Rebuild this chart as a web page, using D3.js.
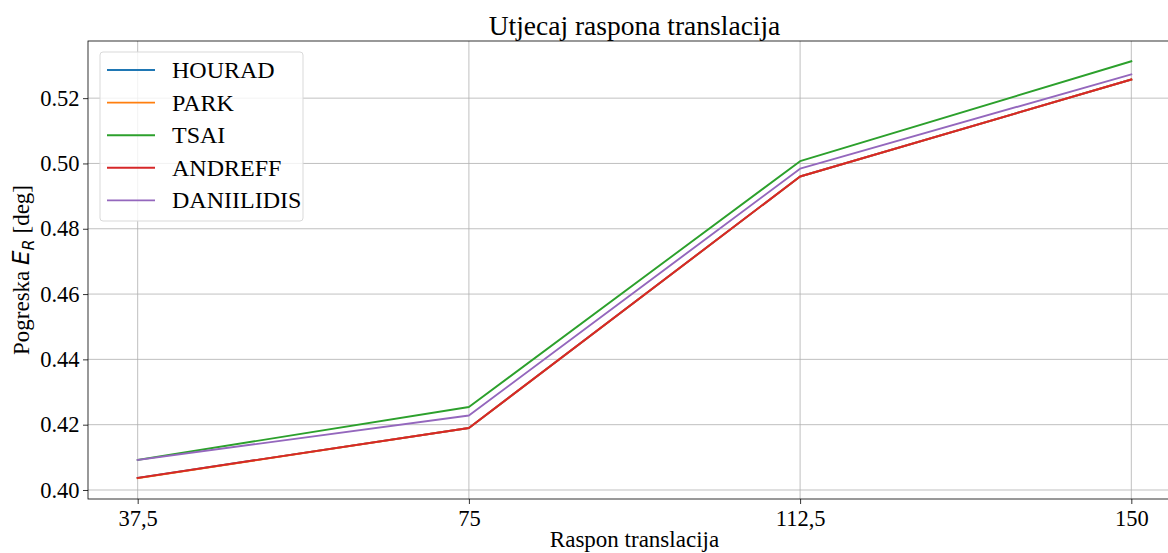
<!DOCTYPE html>
<html><head><meta charset="utf-8">
<script src="https://cdn.jsdelivr.net/npm/d3@7"></script>
<style>body{margin:0;background:#fff}svg{display:block}</style>
</head><body><svg id="c" width="1168" height="553"></svg>
<script>
const categories = ["37,5", "75", "112,5", "150"];
const seriesNames = ["HOURAD", "PARK", "TSAI", "ANDREFF", "DANIILIDIS"];
const colors = ["#1f77b4", "#ff7f0e", "#2ca02c", "#d62728", "#9467bd"];
const hourad = [0.4037, 0.4190, 0.4960, 0.5257];
const park = [0.4036, 0.4190, 0.4960, 0.5257];
const tsai = [0.4092, 0.4254, 0.5007, 0.5313];
const andreff = [0.4037, 0.4190, 0.4960, 0.5257];
const daniilidis = [0.4092, 0.4228, 0.4984, 0.5273];
const yTicks = [0.40, 0.42, 0.44, 0.46, 0.48, 0.50, 0.52];
const seriesValues = [hourad, park, tsai, andreff, daniilidis];

const svg = d3.select("#c");
const L = 88, R = 1181, T = 41, B = 499;
const serif = "'Liberation Serif','Times New Roman',serif";

const x = d3.scaleLinear().domain([-0.15, 3.15]).range([L, R]);
const y = d3.scaleLinear().domain([0.39724, 0.5375]).range([B, T]);

// grid
const g = svg.append("g");
g.selectAll("line.gx").data(categories).join("line")
  .attr("x1", (d,i)=>x(i)).attr("x2", (d,i)=>x(i)).attr("y1", T).attr("y2", B)
  .attr("stroke", "#b0b0b0").attr("stroke-width", 0.8);
g.selectAll("line.gy").data(yTicks).join("line")
  .attr("x1", L).attr("x2", R).attr("y1", d=>y(d)).attr("y2", d=>y(d))
  .attr("stroke", "#b0b0b0").attr("stroke-width", 0.8);

// lines
const line = d3.line().x((d,i)=>x(i)).y(d=>y(d));
svg.append("g").selectAll("path").data(seriesValues).join("path")
  .attr("d", line).attr("fill", "none")
  .attr("stroke", (d,i)=>colors[i]).attr("stroke-width", 1.9)
  .attr("stroke-linejoin", "round").attr("stroke-linecap", "square");

// axes
const xAxis = d3.axisBottom(x).tickValues([0,1,2,3]).tickFormat(i=>categories[i]).tickSize(5).tickPadding(6);
const yAxis = d3.axisLeft(y).tickValues(yTicks).tickFormat(d3.format(".2f")).tickSize(5).tickPadding(3.5);
const ax = svg.append("g").attr("transform", `translate(0,${B})`).call(xAxis);
const ay = svg.append("g").attr("transform", `translate(${L},0)`).call(yAxis);
[ax, ay].forEach(a=>{
  a.select(".domain").remove();
  a.selectAll("text").attr("font-family", serif).attr("font-size", 22.5).attr("fill", "#000");
  a.selectAll("line").attr("stroke", "#000").attr("stroke-width", 0.8);
});
// spines
svg.append("rect").attr("x", L).attr("y", T).attr("width", R-L).attr("height", B-T)
  .attr("fill", "none").attr("stroke", "#000").attr("stroke-width", 0.8);

// title
svg.append("text").attr("x", (L+R)/2).attr("y", 35).attr("text-anchor", "middle")
  .attr("font-family", serif).attr("font-size", 27.5).text("Utjecaj raspona translacija");
// x label
svg.append("text").attr("x", (L+R)/2).attr("y", 547).attr("text-anchor", "middle")
  .attr("font-family", serif).attr("font-size", 23).text("Raspon translacija");
// y label
const yl = svg.append("text").attr("transform", `translate(29,${(T+B)/2}) rotate(-90)`)
  .attr("text-anchor", "middle").attr("font-family", serif).attr("font-size", 23);
yl.append("tspan").text("Pogreska ");
yl.append("tspan").attr("font-family", "'DejaVu Sans',sans-serif").attr("font-style", "italic").text("E");
yl.append("tspan").attr("font-family", "'DejaVu Sans',sans-serif").attr("font-style", "italic")
  .attr("font-size", 16).attr("dy", 5).text("R");
yl.append("tspan").attr("dy", -5).text(" [deg]");

// legend
const lg = svg.append("g");
lg.append("rect").attr("x", 100).attr("y", 52).attr("width", 203).attr("height", 169)
  .attr("rx", 3).attr("fill", "#fff").attr("fill-opacity", 0.8).attr("stroke", "#d9d9d9").attr("stroke-width", 1);
const items = lg.selectAll("g.it").data(seriesNames).join("g")
  .attr("transform", (d,i)=>`translate(0,${70 + i*32.6})`);
items.append("line").attr("x1", 107).attr("x2", 155).attr("y1", 0).attr("y2", 0)
  .attr("stroke", (d,i)=>colors[i]).attr("stroke-width", 1.9);
items.append("text").attr("x", 172).attr("y", 8).attr("font-family", serif)
  .attr("font-size", 24).text(d=>d);
</script></body></html>
